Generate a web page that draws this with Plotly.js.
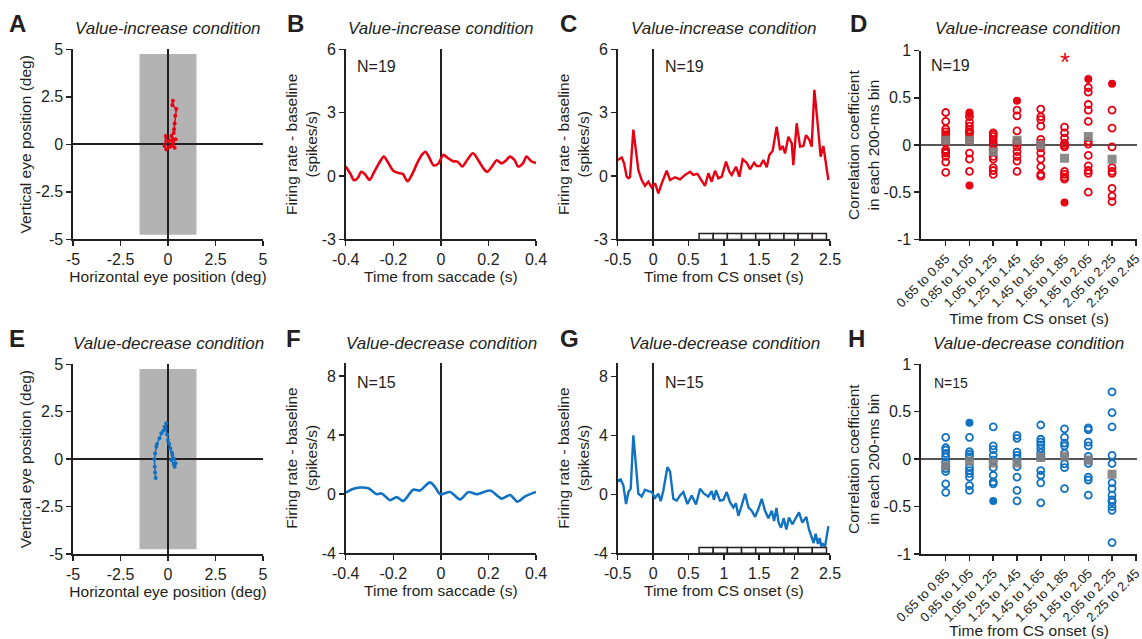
<!DOCTYPE html>
<html><head><meta charset="utf-8">
<script src="https://cdn.plot.ly/plotly-3.0.1.min.js"></script>
<style>html,body{margin:0;padding:0;background:#fff}#chart{width:1142px;height:639px}</style>
</head><body><div id="chart"></div>
<script>
// ---------------- DATA ----------------
// Panel A / E: eye position traces (deg)
const eyeIncX = [0.26, 0.23, 0.44, 0.38, 0.35, 0.32, 0.30, 0.18, 0.26, 0.10, 0.00, -0.12, -0.18, -0.09, 0.05, 0.18, 0.35, 0.26, 0.40];
const eyeIncY = [2.30, 2.07, 1.86, 1.50, 1.10, 0.80, 0.60, 0.44, 0.27, 0.20, 0.15, 0.44, -0.09, -0.27, -0.15, -0.09, -0.18, 0.09, 0.27];
const eyeDecX = [-0.65, -0.68, -0.70, -0.72, -0.68, -0.61, -0.58, -0.45, -0.35, -0.25, -0.18, -0.09, -0.12, -0.05, 0.00, 0.06, 0.12, 0.20, 0.23, 0.18, 0.30, 0.35, 0.40, 0.30];
const eyeDecY = [-1.00, -0.70, -0.40, 0.00, 0.30, 0.66, 0.80, 1.10, 1.36, 1.50, 1.71, 1.89, 1.60, 1.30, 1.01, 0.80, 0.57, 0.35, 0.22, -0.04, -0.25, -0.40, -0.22, 0.04];
const fixWindowX = [-1.5, 1.5];
const fixWindowY = [-4.75, 4.75];

// Panel B / F: firing rate aligned to saccade
const sacIncT = [-0.40, -0.38, -0.365, -0.35, -0.335, -0.32, -0.30, -0.28, -0.26, -0.24, -0.22, -0.20, -0.18, -0.16, -0.14, -0.12, -0.10, -0.08, -0.065, -0.05, -0.03, -0.01, 0.01, 0.03, 0.05, 0.07, 0.09, 0.11, 0.135, 0.16, 0.18, 0.195, 0.215, 0.235, 0.255, 0.275, 0.29, 0.31, 0.325, 0.345, 0.36, 0.38, 0.40];
const sacIncR = [0.45, 0.10, -0.20, -0.10, 0.20, 0.10, -0.18, 0.20, 0.60, 0.92, 0.60, 0.25, 0.15, 0.10, -0.25, 0.10, 0.60, 1.00, 1.15, 0.90, 0.50, 0.60, 1.00, 0.85, 0.70, 0.68, 0.45, 0.75, 1.08, 0.70, 0.35, 0.20, 0.45, 0.75, 0.60, 0.75, 0.92, 0.75, 0.45, 0.60, 0.92, 0.70, 0.62];
const sacDecT = [-0.40, -0.37, -0.34, -0.305, -0.27, -0.249, -0.214, -0.186, -0.158, -0.116, -0.088, -0.046, -0.025, -0.003, 0.039, 0.081, 0.116, 0.151, 0.207, 0.256, 0.291, 0.322, 0.354, 0.40];
const sacDecR = [0.10, 0.35, 0.45, 0.40, 0.00, 0.05, -0.40, -0.20, -0.45, 0.30, 0.25, 0.80, 0.50, 0.00, 0.15, -0.35, 0.15, 0.00, 0.25, -0.30, -0.05, -0.50, -0.15, 0.15];

// Panel C / G: firing rate aligned to CS onset
const csIncT = [-0.50, -0.443, -0.41, -0.373, -0.349, -0.326, -0.279, -0.241, -0.208, -0.161, -0.114, -0.067, -0.02, 0.028, 0.075, 0.122, 0.192, 0.24, 0.31, 0.381, 0.451, 0.522, 0.569, 0.626, 0.687, 0.734, 0.781, 0.828, 0.875, 0.923, 0.97, 1.031, 1.078, 1.111, 1.172, 1.219, 1.266, 1.323, 1.37, 1.427, 1.464, 1.511, 1.558, 1.606, 1.643, 1.69, 1.747, 1.794, 1.832, 1.865, 1.912, 1.959, 1.982, 2.029, 2.077, 2.124, 2.161, 2.208, 2.241, 2.279, 2.321, 2.368, 2.406, 2.444, 2.477];
const csIncR = [0.76, 0.88, 0.60, -0.03, -0.10, -0.05, 2.20, 1.07, 0.28, -0.19, -0.47, -0.27, -0.54, -0.35, -0.82, -0.35, 0.25, -0.19, -0.06, -0.16, 0.05, 0.20, 0.05, 0.10, -0.19, -0.47, 0.13, -0.27, 0.25, -0.11, -0.03, 0.68, 0.20, 0.05, 0.44, -0.03, 0.79, 0.63, 0.32, 0.63, 0.47, 0.47, 0.76, 0.41, 1.00, 1.20, 2.34, 1.23, 1.42, 1.07, 1.86, 1.55, 0.52, 2.50, 1.39, 1.42, 1.94, 1.71, 1.39, 4.08, 2.65, 0.92, 1.42, 0.52, -0.19];
const csDecT = [-0.50, -0.458, -0.42, -0.382, -0.349, -0.316, -0.279, -0.241, -0.208, -0.161, -0.114, -0.067, -0.02, 0.028, 0.075, 0.108, 0.146, 0.202, 0.24, 0.286, 0.334, 0.381, 0.428, 0.485, 0.546, 0.607, 0.663, 0.72, 0.781, 0.828, 0.861, 0.889, 0.946, 0.993, 1.04, 1.087, 1.134, 1.17, 1.205, 1.252, 1.3, 1.347, 1.394, 1.441, 1.488, 1.535, 1.582, 1.63, 1.677, 1.71, 1.743, 1.774, 1.808, 1.846, 1.883, 1.92, 1.968, 2.015, 2.062, 2.109, 2.165, 2.203, 2.236, 2.269, 2.297, 2.33, 2.354, 2.377, 2.40, 2.43, 2.477];
const csDecR = [0.92, 1.02, 0.62, -0.65, 0.16, 0.39, 4.02, 1.66, 0.05, -0.14, 0.32, 0.23, 0.16, -0.23, 0.05, -0.46, 0.28, 1.85, 1.55, -0.30, -0.42, -0.07, 0.16, -0.65, -0.07, -0.69, 0.39, 0.05, -0.14, 0.23, -0.37, 0.28, -0.42, -0.37, 0.16, -0.53, -0.88, -0.60, -1.45, -0.76, 0.05, -0.88, -1.11, -1.52, -0.99, -0.30, -1.11, -1.62, -1.11, -1.80, -0.92, -1.92, -2.26, -1.62, -2.38, -1.57, -2.03, -1.62, -1.22, -1.92, -1.52, -2.38, -2.84, -3.30, -2.68, -3.37, -2.96, -3.53, -3.37, -3.53, -2.15];

// 200-ms analysis bins (start times, s)
const binStarts = [0.65, 0.85, 1.05, 1.25, 1.45, 1.65, 1.85, 2.05, 2.25];
const binWidth = 0.2;

// Panel D: correlation coefficients per bin (value-increase)
const incOpen = [
  [0.345, 0.25, 0.17, 0.14, 0.11, 0.085, 0.06, 0.03, -0.05, -0.07, -0.085, -0.12, -0.18, -0.29],
  [0.30, 0.24, 0.20, 0.16, 0.14, 0.12, 0.085, 0.05, -0.085, -0.15, -0.28],
  [0.13, 0.11, 0.09, 0.056, 0.02, 0.0, -0.05, -0.12, -0.15, -0.24, -0.27, -0.31],
  [0.37, 0.31, 0.15, 0.04, 0.02, -0.02, -0.07, -0.12, -0.17, -0.28],
  [0.38, 0.30, 0.27, 0.20, 0.06, 0.02, -0.03, -0.085, -0.15, -0.23, -0.31, -0.33],
  [0.19, 0.13, 0.074, 0.02, 0.0, -0.02, -0.28, -0.31, -0.34, -0.36],
  [0.61, 0.56, 0.43, 0.37, 0.25, 0.04, 0.01, -0.11, -0.22, -0.27, -0.30, -0.50],
  [0.37, 0.18, -0.02, -0.24, -0.28, -0.30, -0.46, -0.54, -0.60]
];
const incFilled = [[], [0.345, 0.33, -0.43], [], [0.47], [], [-0.61], [0.70], [0.65]];
const incMean = [0.05, 0.05, -0.07, 0.05, 0.0, -0.14, 0.09, -0.15];
const incSigBin = [5];
const incSigLevel = [0.88];

// Panel H: correlation coefficients per bin (value-decrease)
const decOpen = [
  [0.23, 0.12, 0.095, 0.06, 0.025, -0.03, -0.074, -0.10, -0.13, -0.26, -0.35],
  [0.23, 0.078, 0.05, 0.025, -0.09, -0.12, -0.15, -0.19, -0.28, -0.33],
  [0.34, 0.14, 0.10, 0.04, -0.01, -0.09, -0.17, -0.24, -0.26],
  [0.25, 0.22, 0.074, 0.04, 0.007, -0.08, -0.19, -0.33, -0.44],
  [0.36, 0.21, 0.18, 0.15, 0.11, 0.067, 0.025, -0.12, -0.17, -0.25, -0.46],
  [0.32, 0.23, 0.17, 0.14, 0.06, -0.05, -0.09, -0.31],
  [0.33, 0.31, 0.18, 0.14, 0.03, -0.01, -0.046, -0.19, -0.22, -0.38],
  [0.71, 0.49, 0.34, 0.04, -0.046, -0.25, -0.31, -0.38, -0.43, -0.45, -0.50, -0.54, -0.88]
];
const decFilled = [[], [0.385], [-0.44], [], [], [], [], []];
const decMean = [-0.07, -0.02, -0.04, -0.04, 0.018, 0.03, -0.01, -0.16];

// Tick labels
const eyeTicks = [-5, -2.5, 0, 2.5, 5];
const eyeTickText = ['-5', '-2.5', '0', '2.5', '5'];
const sacTicks = [-0.4, -0.2, 0, 0.2, 0.4];
const sacTickText = ['-0.4', '-0.2', '0', '0.2', '0.4'];
const csTicks = [-0.5, 0, 0.5, 1, 1.5, 2, 2.5];
const csTickText = ['-0.5', '0', '0.5', '1', '1.5', '2', '2.5'];
const rateIncTicks = [-3, 0, 3, 6];
const rateIncTickText = ['-3', '0', '3', '6'];
const rateDecTicks = [-4, 0, 4, 8];
const rateDecTickText = ['-4', '0', '4', '8'];
const corrTicks = [-1, -0.5, 0, 0.5, 1];
const corrTickText = ['-1', '-0.5', '0', '0.5', '1'];
const binLabels = binStarts.map(s => s.toFixed(2) + ' to ' + (s + binWidth).toFixed(2));

// ---------------- STYLE ----------------
const INK = '#231f20';
const RED = '#e60012';
const BLUE = '#1172c1';
const GRAYMEAN = '#808080';
const FONT = 'Liberation Sans, Arial, Helvetica, sans-serif';
const W = 1142, H = 639;
const px = x => x / W;
const py = y => 1 - y / H;

function axis(dom, range, tv, tt, extra) {
  return Object.assign({
    domain: dom, range: range, tickmode: 'array', tickvals: tv, ticktext: tt,
    showline: true, linecolor: INK, linewidth: 1.6, mirror: false,
    ticks: 'outside', ticklen: 5, tickwidth: 1.5, tickcolor: INK,
    showgrid: false, zeroline: false, fixedrange: true, ticklabeloverflow: 'allow',
    tickfont: {family: FONT, size: 16, color: INK}
  }, extra || {});
}
function xt(text, standoff) { return {title: {text: text, font: {family: FONT, size: 15.5, color: INK}, standoff: standoff}}; }

const traces = [];
traces.push({x: eyeIncX, y: eyeIncY, xaxis: 'x', yaxis: 'y', mode: 'lines+markers', line: {color: RED, width: 1.5}, marker: {color: RED, size: 4}, hoverinfo: 'skip'});
traces.push({x: eyeDecX, y: eyeDecY, xaxis: 'x5', yaxis: 'y5', mode: 'lines+markers', line: {color: BLUE, width: 1.5}, marker: {color: BLUE, size: 4}, hoverinfo: 'skip'});
traces.push({x: sacIncT, y: sacIncR, xaxis: 'x2', yaxis: 'y2', mode: 'lines', line: {color: RED, width: 2.6, shape: 'spline', smoothing: 0.8}, hoverinfo: 'skip'});
traces.push({x: sacDecT, y: sacDecR, xaxis: 'x6', yaxis: 'y6', mode: 'lines', line: {color: BLUE, width: 2.6, shape: 'spline', smoothing: 0.8}, hoverinfo: 'skip'});
traces.push({x: csIncT, y: csIncR, xaxis: 'x3', yaxis: 'y3', mode: 'lines', line: {color: RED, width: 2.4}, hoverinfo: 'skip'});
traces.push({x: csDecT, y: csDecR, xaxis: 'x7', yaxis: 'y7', mode: 'lines', line: {color: BLUE, width: 2.4}, hoverinfo: 'skip'});

function corrTraces(open, filled, mean, color, xa, ya) {
  const ox = [], oy = [], fx = [], fy = [];
  open.forEach((col, i) => col.forEach(v => { ox.push(i); oy.push(v); }));
  filled.forEach((col, i) => col.forEach(v => { fx.push(i); fy.push(v); }));
  traces.push({x: ox, y: oy, xaxis: xa, yaxis: ya, mode: 'markers', marker: {symbol: 'circle-open', size: 7, color: color, line: {width: 1.8, color: color}}, hoverinfo: 'skip'});
  traces.push({x: fx, y: fy, xaxis: xa, yaxis: ya, mode: 'markers', marker: {symbol: 'circle', size: 8, color: color}, hoverinfo: 'skip'});
  traces.push({x: mean.map((m, i) => i), y: mean, xaxis: xa, yaxis: ya, mode: 'markers', marker: {symbol: 'square', size: 9, color: GRAYMEAN, opacity: 0.9}, hoverinfo: 'skip'});
}
corrTraces(incOpen, incFilled, incMean, RED, 'x4', 'y4');
corrTraces(decOpen, decFilled, decMean, BLUE, 'x8', 'y8');

const shapes = [];
[['x', 'y'], ['x5', 'y5']].forEach(([xr, yr]) => shapes.push({type: 'rect', xref: xr, yref: yr, x0: fixWindowX[0], x1: fixWindowX[1], y0: fixWindowY[0], y1: fixWindowY[1], fillcolor: '#b3b3b3', line: {width: 0}, layer: 'below'}));
function binBoxes(xr, yr, y0, y1) {
  binStarts.forEach(s => shapes.push({type: 'rect', xref: xr, yref: yr, x0: s, x1: s + binWidth, y0: y0, y1: y1, fillcolor: '#ffffff', line: {color: INK, width: 1.5}, layer: 'above'}));
}
binBoxes('x3', 'y3', -3, -2.72);
binBoxes('x7', 'y7', -4, -3.6);

const ann = [];
function txt(x, y, t, size, opts) {
  ann.push(Object.assign({xref: 'paper', yref: 'paper', x: px(x), y: py(y), text: t, showarrow: false, xanchor: 'center', yanchor: 'middle', font: {family: FONT, size: size, color: INK}}, opts || {}));
}
const letters = [['A', 17, 24], ['B', 295, 24], ['C', 568, 24], ['D', 858, 24], ['E', 17, 338], ['F', 293, 338], ['G', 569, 338], ['H', 856, 338]];
letters.forEach(l => txt(l[1], l[2], '<b>' + l[0] + '</b>', 24));
const condTitles = [['Value-increase condition', 168, 29], ['Value-increase condition', 441, 29], ['Value-increase condition', 724, 29], ['Value-increase condition', 1028, 29],
  ['Value-decrease condition', 168, 343], ['Value-decrease condition', 441, 343], ['Value-decrease condition', 724, 343], ['Value-decrease condition', 1028, 343]];
condTitles.forEach(c => txt(c[1], c[2], '<i>' + c[0] + '</i>', 17));
txt(355, 66, 'N=19', 16, {xanchor: 'left'});
txt(663, 66, 'N=19', 16, {xanchor: 'left'});
txt(929, 65, 'N=19', 16, {xanchor: 'left'});
txt(355, 382, 'N=15', 16, {xanchor: 'left'});
txt(663, 382, 'N=15', 16, {xanchor: 'left'});
txt(932, 383, 'N=15', 14, {xanchor: 'left'});
incSigBin.forEach((b, i) => ann.push({xref: 'x4', yref: 'y4', x: b, y: incSigLevel[i], text: '*', showarrow: false, font: {family: FONT, size: 26, color: RED}, yanchor: 'middle'}));

const dA = [px(73), px(263)], dB = [px(345.7), px(536)], dC = [px(617.7), px(830)], dD = [px(921), px(1137)];
const rowTop = [py(239.4), py(49.3)], rowTopD = [py(239.4), py(50.7)];
const rowBot = [py(554), py(364.3)], rowBotF = [py(553.3), py(362.7)];

const yt = (t, s) => ({title: {text: t, font: {family: FONT, size: 15.5, color: INK}, standoff: s}});
const rateTitle = 'Firing rate - baseline<br>(spikes/s)';
const corrTitle = 'Correlation coefficient<br>in each 200-ms bin';

const layout = {
  width: W, height: H, margin: {l: 0, r: 0, t: 0, b: 0}, paper_bgcolor: '#fff', plot_bgcolor: 'rgba(0,0,0,0)',
  showlegend: false, font: {family: FONT, color: INK},
  xaxis: axis(dA, [-5, 5], eyeTicks, eyeTickText, Object.assign({anchor: 'y', zeroline: true, zerolinecolor: INK, zerolinewidth: 2}, xt('Horizontal eye position (deg)', 4))),
  yaxis: axis(rowTop, [-5, 5], eyeTicks, eyeTickText, Object.assign({anchor: 'x', zeroline: true, zerolinecolor: INK, zerolinewidth: 2}, yt('Vertical eye position (deg)', 0))),
  xaxis2: axis(dB, [-0.4, 0.4], sacTicks, sacTickText, Object.assign({anchor: 'y2', zeroline: true, zerolinecolor: INK, zerolinewidth: 1.8}, xt('Time from saccade (s)', 4))),
  yaxis2: axis(rowTop, [-3, 6], rateIncTicks, rateIncTickText, Object.assign({anchor: 'x2'}, yt(rateTitle, 0))),
  xaxis3: axis(dC, [-0.5, 2.5], csTicks, csTickText, Object.assign({anchor: 'y3', zeroline: true, zerolinecolor: INK, zerolinewidth: 1.8}, xt('Time from CS onset (s)', 4))),
  yaxis3: axis(rowTop, [-3, 6], rateIncTicks, rateIncTickText, Object.assign({anchor: 'x3'}, yt(rateTitle, 0))),
  xaxis4: axis(dD, [-1.04, 8.05], binLabels.map((l, i) => i), binLabels, Object.assign({anchor: 'y4', tickangle: -45, tickfont: {family: FONT, size: 13, color: INK}}, xt('Time from CS onset (s)', 2))),
  yaxis4: axis(rowTopD, [-1, 1], corrTicks, corrTickText, Object.assign({anchor: 'x4', zeroline: true, zerolinecolor: '#555555', zerolinewidth: 2}, yt(corrTitle, 0))),
  xaxis5: axis(dA, [-5, 5], eyeTicks, eyeTickText, Object.assign({anchor: 'y5', zeroline: true, zerolinecolor: INK, zerolinewidth: 2}, xt('Horizontal eye position (deg)', 4))),
  yaxis5: axis(rowBot, [-5, 5], eyeTicks, eyeTickText, Object.assign({anchor: 'x5', zeroline: true, zerolinecolor: INK, zerolinewidth: 2}, yt('Vertical eye position (deg)', 0))),
  xaxis6: axis(dB, [-0.4, 0.4], sacTicks, sacTickText, Object.assign({anchor: 'y6', zeroline: true, zerolinecolor: INK, zerolinewidth: 1.8}, xt('Time from saccade (s)', 4))),
  yaxis6: axis(rowBotF, [-4, 8.9], rateDecTicks, rateDecTickText, Object.assign({anchor: 'x6'}, yt(rateTitle, 0))),
  xaxis7: axis(dC, [-0.5, 2.5], csTicks, csTickText, Object.assign({anchor: 'y7', zeroline: true, zerolinecolor: INK, zerolinewidth: 1.8}, xt('Time from CS onset (s)', 4))),
  yaxis7: axis(rowBotF, [-4, 8.95], rateDecTicks, rateDecTickText, Object.assign({anchor: 'x7'}, yt(rateTitle, 0))),
  xaxis8: axis(dD, [-1.04, 8.05], binLabels.map((l, i) => i), binLabels, Object.assign({anchor: 'y8', tickangle: -45, tickfont: {family: FONT, size: 13, color: INK}}, xt('Time from CS onset (s)', 2))),
  yaxis8: axis(rowBot, [-1, 1], corrTicks, corrTickText, Object.assign({anchor: 'x8', zeroline: true, zerolinecolor: '#555555', zerolinewidth: 2}, yt(corrTitle, 0))),
  shapes: shapes,
  annotations: ann
};

Plotly.newPlot('chart', traces, layout, {staticPlot: true, displayModeBar: false});
</script></body></html>
